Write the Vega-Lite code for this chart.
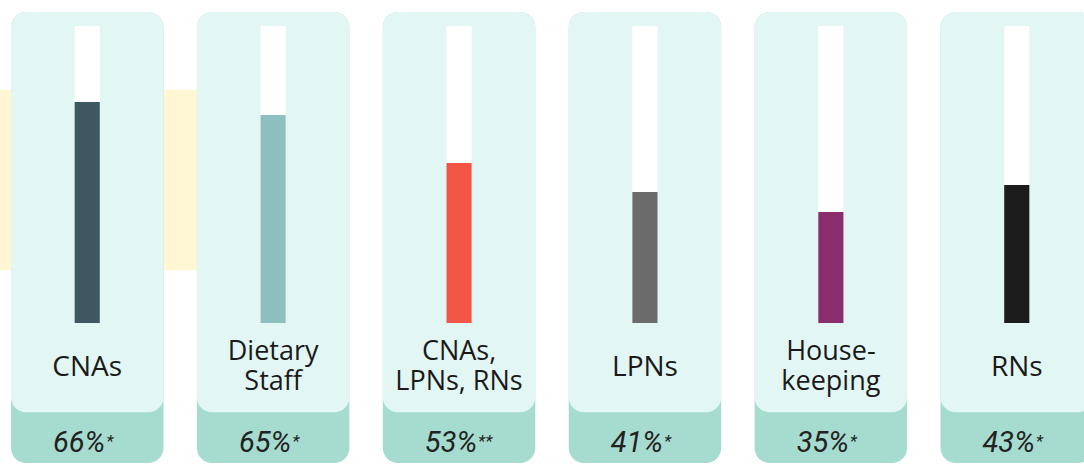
{
  "$schema": "https://vega.github.io/schema/vega-lite/v6.json",
  "width": 1084,
  "height": 465,
  "autosize": {"type": "none"},
  "padding": 0,
  "background": "white",
  "config": {"view": {"stroke": null}},
  "data": {
    "values": [
      {"group": "CNAs", "label": "CNAs", "lines": 1, "pct": "66%", "note": "*", "level": 74.4},
      {"group": "Dietary Staff", "label": "Dietary\nStaff", "lines": 2, "pct": "65%", "note": "*", "level": 70.0},
      {"group": "CNAs, LPNs, RNs", "label": "CNAs,\nLPNs, RNs", "lines": 2, "pct": "53%", "note": "**", "level": 53.9},
      {"group": "LPNs", "label": "LPNs", "lines": 1, "pct": "41%", "note": "*", "level": 44.1},
      {"group": "Housekeeping", "label": "House-\nkeeping", "lines": 2, "pct": "35%", "note": "*", "level": 37.4},
      {"group": "RNs", "label": "RNs", "lines": 1, "pct": "43%", "note": "*", "level": 46.5}
    ]
  },
  "encoding": {
    "x": {
      "field": "group",
      "type": "nominal",
      "sort": null,
      "axis": null,
      "scale": {"range": [11, 1093], "paddingInner": 0.18, "paddingOuter": 0}
    }
  },
  "layer": [
    {
      "transform": [{"filter": "datum.group === 'CNAs'"}],
      "mark": {"type": "bar", "color": "#fff6d4", "width": {"band": 1.45}, "xOffset": 12},
      "encoding": {
        "y": {"datum": 78.5, "type": "quantitative", "scale": {"domain": [-47.8, 108.75], "nice": false, "zero": false}, "axis": null},
        "y2": {"datum": 17.8}
      }
    },
    {
      "mark": {"type": "bar", "color": "#a6dccf", "cornerRadius": 15},
      "encoding": {
        "y": {"datum": 104.7, "type": "quantitative", "scale": {"domain": [-47.8, 108.75], "nice": false, "zero": false}, "axis": null},
        "y2": {"datum": -47.1}
      }
    },
    {
      "mark": {"type": "bar", "color": "#e2f6f4", "cornerRadius": 15},
      "encoding": {
        "y": {"datum": 104.7, "type": "quantitative", "scale": {"domain": [-47.8, 108.75], "nice": false, "zero": false}, "axis": null},
        "y2": {"datum": -30}
      }
    },
    {
      "mark": {"type": "bar", "color": "#ffffff", "width": {"band": 0.165}},
      "encoding": {
        "y": {"datum": 100, "type": "quantitative", "scale": {"domain": [-47.8, 108.75], "nice": false, "zero": false}, "axis": null},
        "y2": {"datum": 0}
      }
    },
    {
      "mark": {"type": "bar", "width": {"band": 0.165}},
      "encoding": {
        "y": {"field": "level", "type": "quantitative", "scale": {"domain": [-47.8, 108.75], "nice": false, "zero": false}, "axis": null},
        "y2": {"datum": 0},
        "color": {
          "field": "group",
          "type": "nominal",
          "legend": null,
          "scale": {
            "domain": ["CNAs", "Dietary Staff", "CNAs, LPNs, RNs", "LPNs", "Housekeeping", "RNs"],
            "range": ["#3e5862", "#8dbfbf", "#f25546", "#6b6b6b", "#8a2d6d", "#1c1c1c"]
          }
        }
      }
    },
    {
      "transform": [{"filter": "datum.lines === 1"}],
      "mark": {"type": "text", "font": "Open Sans", "fontSize": 28, "baseline": "middle", "color": "#1a1a1a"},
      "encoding": {
        "text": {"field": "label", "type": "nominal"},
        "y": {"datum": -15.2, "type": "quantitative", "scale": {"domain": [-47.8, 108.75], "nice": false, "zero": false}, "axis": null}
      }
    },
    {
      "transform": [{"filter": "datum.lines === 2"}],
      "mark": {"type": "text", "font": "Open Sans", "fontSize": 27, "lineBreak": "\n", "lineHeight": 30, "baseline": "middle", "color": "#1a1a1a"},
      "encoding": {
        "text": {"field": "label", "type": "nominal"},
        "y": {"datum": -9.6, "type": "quantitative", "scale": {"domain": [-47.8, 108.75], "nice": false, "zero": false}, "axis": null}
      }
    },
    {
      "mark": {"type": "text", "font": "Roboto", "fontStyle": "italic", "fontSize": 29, "align": "right", "dx": 18, "baseline": "alphabetic", "color": "#222222"},
      "encoding": {
        "text": {"field": "pct", "type": "nominal"},
        "y": {"datum": -43.4, "type": "quantitative", "scale": {"domain": [-47.8, 108.75], "nice": false, "zero": false}, "axis": null}
      }
    },
    {
      "mark": {"type": "text", "font": "Roboto", "fontStyle": "italic", "fontSize": 17, "align": "left", "dx": 19, "dy": -5, "baseline": "alphabetic", "color": "#222222"},
      "encoding": {
        "text": {"field": "note", "type": "nominal"},
        "y": {"datum": -43.4, "type": "quantitative", "scale": {"domain": [-47.8, 108.75], "nice": false, "zero": false}, "axis": null}
      }
    }
  ]
}
